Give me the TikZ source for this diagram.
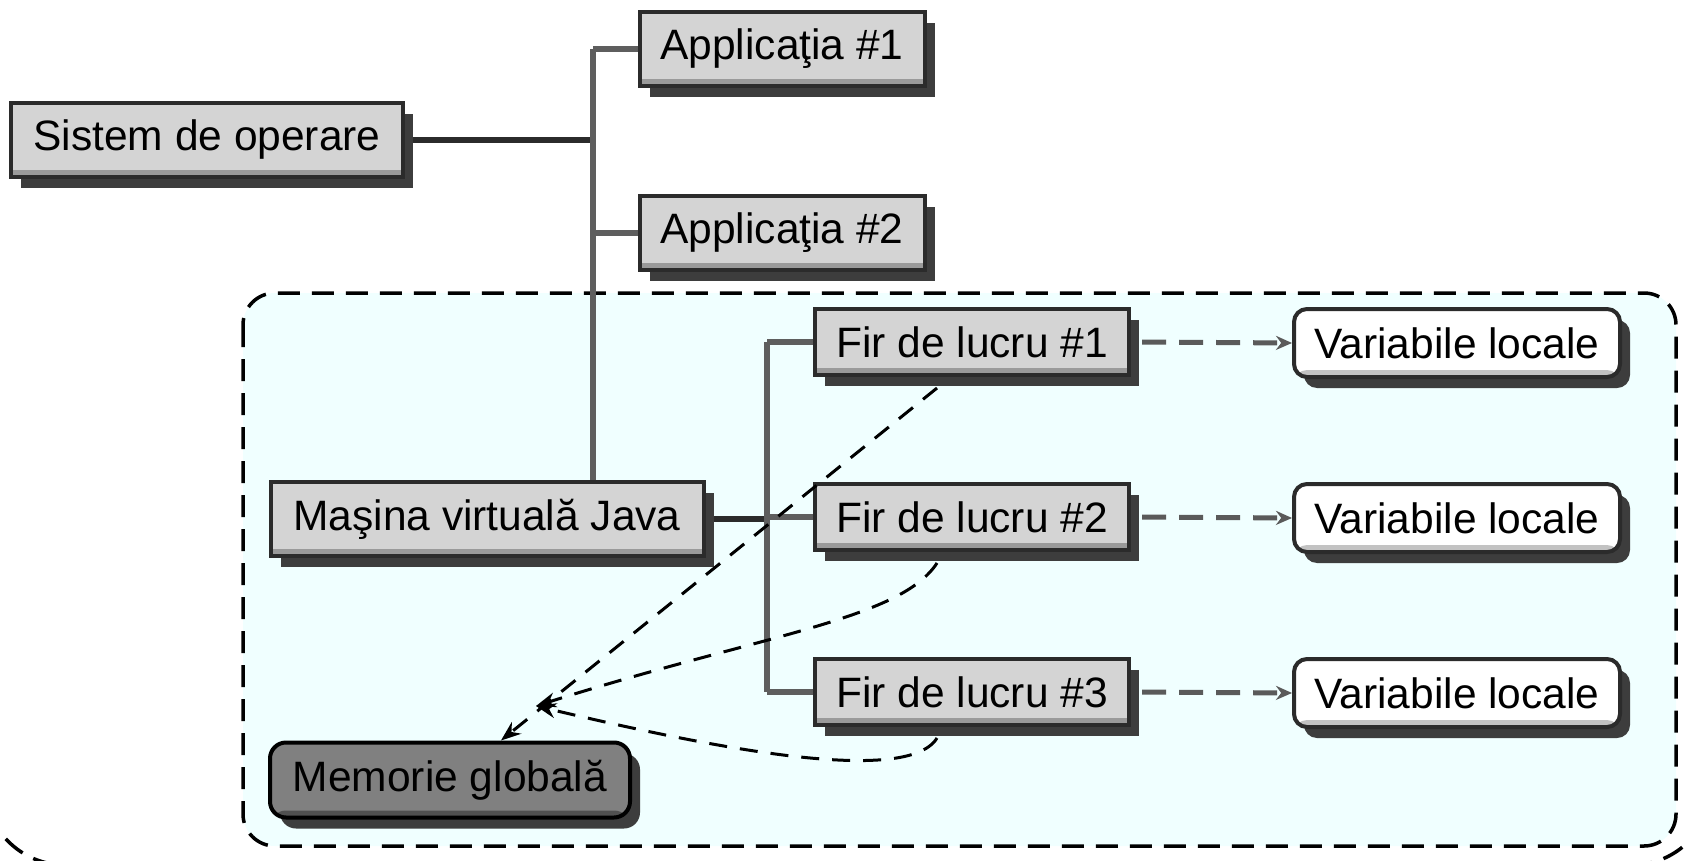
\documentclass[tikz,border=0pt]{standalone}
\usepackage{fontspec}
\setmainfont{Liberation Sans}
\usetikzlibrary{shadows,calc,arrows.meta}
\pgfdeclarelayer{areas}
\pgfdeclarelayer{links}
\pgfsetlayers{areas,links,main}
\definecolor{boxfill}{HTML}{D4D4D4}
\definecolor{bordc}{HTML}{2B2B2B}
\definecolor{shadc}{HTML}{3D3D3D}
\definecolor{bevc}{HTML}{9A9A9A}
\definecolor{memfill}{HTML}{808080}
\definecolor{busc}{HTML}{5E5E5E}
\definecolor{jvmfill}{HTML}{F0FFFF}
\definecolor{arrc}{HTML}{5A5A5A}
\tikzset{
  base/.style={draw=bordc, line width=4pt, font=\fontsize{42.5}{50}\selectfont,
    inner sep=0pt, align=center,
    drop shadow={shadow xshift=10pt,shadow yshift=-11pt,fill=shadc,opacity=1}},
  graybox/.style={base, rectangle, fill=boxfill,
    path picture={\fill[bevc] (path picture bounding box.south west) rectangle ([yshift=7pt]path picture bounding box.south east);}},
  whitebox/.style={base, rectangle, rounded corners=13pt, fill=white,
    path picture={\fill[bevc!60] (path picture bounding box.south west) rectangle ([yshift=7pt]path picture bounding box.south east);}},
  membox/.style={base, rectangle, rounded corners=16pt, fill=memfill, draw=black,
    path picture={\fill[shadc!90] (path picture bounding box.south west) rectangle ([yshift=7pt]path picture bounding box.south east);}},
  mainline/.style={line width=6.5pt, draw=bordc},
  busline/.style={line width=5.5pt, draw=busc},
  areabox/.style={draw=black, line width=3.5pt, dash pattern=on 22pt off 12pt, rounded corners=32pt},
  outerbox/.style={draw=black, line width=3.5pt, dash pattern=on 22pt off 12pt, rounded corners=80pt},
  localarrow/.style={draw=arrc, line width=5pt, dash pattern=on 24pt off 13pt, -{Stealth[length=16pt,width=14pt]}},
  memarrow/.style={draw=black, line width=3pt, dash pattern=on 18pt off 13pt, -{Stealth[length=20pt,width=15pt]}},
}
\begin{document}
\begin{tikzpicture}[x=1pt,y=-1pt]
\useasboundingbox (0,0) rectangle (1685,861);
\clip (0,0) rectangle (1685,861);

% outer (operating system) area and JVM area
\begin{pgfonlayer}{areas}
\draw[outerbox] (-15,-120) rectangle (1712,865);
\draw[areabox, fill=jvmfill] (243,293) rectangle (1676,846);
\end{pgfonlayer}

% coordinates for the buses
\coordinate (bus) at (593,0);
\coordinate (tb) at (767,0);
\coordinate (conv) at (536,706);

% nodes
\node[graybox, minimum width=392pt, minimum height=74pt] (sys) at (207,140) {Sistem de operare};
\node[graybox, minimum width=285pt, minimum height=74pt] (app1) at (782,49) {Applicaţia \#1};
\node[graybox, minimum width=285pt, minimum height=74pt] (app2) at (782,233) {Applicaţia \#2};
\node[graybox, minimum width=433pt, minimum height=74pt] (mjv) at (487,519) {Maşina virtuală Java};
\node[graybox, minimum width=314pt, minimum height=66pt] (f1) at (972,342) {Fir de lucru \#1};
\node[graybox, minimum width=314pt, minimum height=66pt] (f2) at (972,517) {Fir de lucru \#2};
\node[graybox, minimum width=314pt, minimum height=66pt] (f3) at (972,692) {Fir de lucru \#3};
\node[whitebox, minimum width=326pt, minimum height=68pt] (v1) at (1457,343) {Variabile locale};
\node[whitebox, minimum width=326pt, minimum height=68pt] (v2) at (1457,518) {Variabile locale};
\node[whitebox, minimum width=326pt, minimum height=68pt] (v3) at (1457,693) {Variabile locale};
\node[membox, minimum width=360pt, minimum height=75pt] (mem) at (450,780) {Memorie globală};

% tree connectors (behind the boxes)
\begin{pgfonlayer}{links}
\draw[mainline] (sys.east) -- (sys.east -| bus);
\draw[busline] (app1.west -| bus) -- (mjv.north -| bus);
\draw[busline] (app1.west -| bus) -- (app1.west);
\draw[busline] (app2.west -| bus) -- (app2.west);
\draw[mainline] (mjv.east) -- (mjv.east -| tb);
\draw[busline] (f1.west -| tb) -- (f3.west -| tb);
\draw[busline] (f1.west -| tb) -- (f1.west);
\draw[busline] (f2.west -| tb) -- (f2.west);
\draw[busline] (f3.west -| tb) -- (f3.west);
\end{pgfonlayer}

% thread to local variables
\draw[localarrow] ([xshift=11pt]f1.east) -- (v1.west);
\draw[localarrow] ([xshift=11pt]f2.east) -- (v2.west);
\draw[localarrow] ([xshift=11pt]f3.east) -- (v3.west);

% threads to global memory
\draw[memarrow] ($(f1.south west)!0.39!(f1.south east)+(0,11)$) -- ($(mem.north west)!0.64!(mem.north east)$);
\draw[memarrow] ($(f2.south west)!0.39!(f2.south east)+(0,11)$) .. controls (900,620) and (760,635) .. (conv);
\draw[memarrow] ($(f3.south west)!0.39!(f3.south east)+(0,11)$) .. controls (905,790) and (680,740) .. (conv);
\end{tikzpicture}
\end{document}
